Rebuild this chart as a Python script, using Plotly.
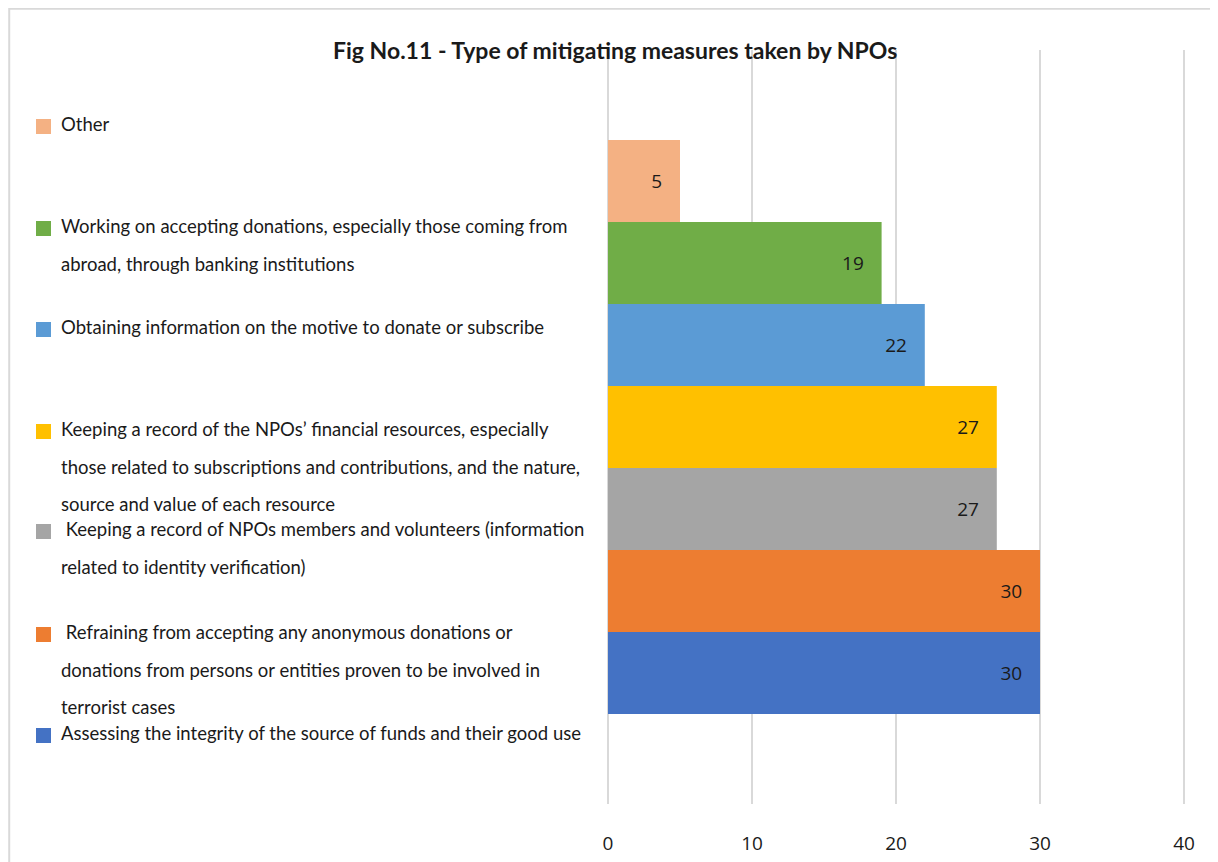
import plotly.graph_objects as go

W, H = 1218, 862
OFF = 8  # page body margin of the photographed page

# Data (bottom to top)
categories = [
    "Assessing the integrity of the source of funds and their good use",
    " Refraining from accepting any anonymous donations or donations from persons or entities proven to be involved in terrorist cases",
    " Keeping a record of NPOs members and volunteers (information related to identity verification)",
    "Keeping a record of the NPOs\u2019 financial resources, especially those related to subscriptions and contributions, and the nature, source and value of each resource",
    "Obtaining information on the motive to donate or subscribe",
    "Working on accepting donations, especially those coming from abroad, through banking institutions",
    "Other",
]
values = [30, 30, 27, 27, 22, 19, 5]
colors = ["#4472C4", "#ED7D31", "#A5A5A5", "#FFC000", "#5B9BD5", "#70AD47", "#F4B183"]

# Wrapped legend text lines (top to bottom order in legend)
legend_lines = [
    ["Other"],
    ["Working on accepting donations, especially those coming from",
     "abroad, through banking institutions"],
    ["Obtaining information on the motive to donate or subscribe"],
    ["Keeping a record of the NPOs\u2019 financial resources, especially",
     "those related to subscriptions and contributions, and the nature,",
     "source and value of each resource"],
    [" Keeping a record of NPOs members and volunteers (information",
     "related to identity verification)"],
    [" Refraining from accepting any anonymous donations or",
     "donations from persons or entities proven to be involved in",
     "terrorist cases"],
    ["Assessing the integrity of the source of funds and their good use"],
]
legend_colors = colors[::-1]
title_text = "Fig No.11 - Type of mitigating measures taken by NPOs"
x_ticks = [0, 10, 20, 30, 40]

def px(x):
    return (x - OFF) / W

def py(y):
    return 1 - (y - OFF) / H

fig = go.Figure()
for i, (cat, v, c) in enumerate(zip(categories, values, colors)):
    fig.add_trace(go.Bar(
        y=[i], x=[v], orientation="h", width=1,
        name=cat, marker=dict(color=c, line=dict(width=0)),
        text=[v], texttemplate="%{x}\u00a0\u00a0\u00a0",
        textposition="inside", insidetextanchor="end",
        textfont=dict(family="Open Sans", size=19, color="#1a1a1a"),
        showlegend=False, hoverinfo="x+name",
    ))

# plot area: x 608..(0->40 at 1184), y 50..804 (in photographed pixels)
x0_px, x40_px = 608, 1184
scale = (x40_px - x0_px) / 40
x_right_px = 1200
y_top_px, y_bot_px = 50, 804
bar_h = 82
ext = (804 - 714) / bar_h

annotations = []
shapes = []
entry_tops = [124, 226, 327, 429, 529, 632, 733]
line_gap = 37.5
for lines, top, col in zip(legend_lines, entry_tops, legend_colors):
    for k, ln in enumerate(lines):
        annotations.append(dict(
            x=px(59), y=py(top + k * line_gap), xref="paper", yref="paper",
            xanchor="left", yanchor="middle", showarrow=False,
            text=ln.replace(" ", "\u00a0", 1) if ln.startswith(" ") else ln,
            font=dict(family="Lato", size=18.5, color="#1a1a1a"),
        ))
    shapes.append(dict(
        type="rect", xref="paper", yref="paper",
        x0=px(36), x1=px(51), y0=py(top + 10), y1=py(top - 5),
        fillcolor=col, line=dict(width=0),
    ))

# outer border
shapes.append(dict(
    type="rect", xref="paper", yref="paper",
    x0=0.001, x1=1.05, y0=-0.05, y1=0.999,
    line=dict(color="#D9D9D9", width=2), fillcolor="rgba(0,0,0,0)", layer="below",
))

annotations.append(dict(
    x=px(615), y=py(50), xref="paper", yref="paper",
    xanchor="center", yanchor="middle", showarrow=False,
    text="<b>" + title_text + "</b>",
    font=dict(family="Lato", size=23, color="#1a1a1a"),
))

fig.update_layout(
    width=W, height=H,
    margin=dict(l=0, r=0, t=0, b=0),
    paper_bgcolor="white", plot_bgcolor="white",
    barmode="overlay",
    showlegend=False,
    annotations=annotations,
    shapes=shapes,
    xaxis=dict(
        domain=[px(x0_px), px(x_right_px)],
        range=[0, (x_right_px - x0_px) / scale],
        tickvals=x_ticks, ticktext=[str(t) for t in x_ticks],
        showgrid=True, gridcolor="#D9D9D9", gridwidth=2,
        zeroline=True, zerolinecolor="#D9D9D9", zerolinewidth=2,
        showline=False, ticks="", ticklabelstandoff=26,
        tickfont=dict(family="Open Sans", size=19, color="#1a1a1a"),
        automargin=False, fixedrange=True,
    ),
    yaxis=dict(
        domain=[py(y_bot_px), py(y_top_px)],
        range=[-0.5 - ext, 6.5 + ext],
        showgrid=False, zeroline=False, showticklabels=False, showline=False,
        automargin=False, fixedrange=True,
    ),
)

fig.write_html("out.html")
